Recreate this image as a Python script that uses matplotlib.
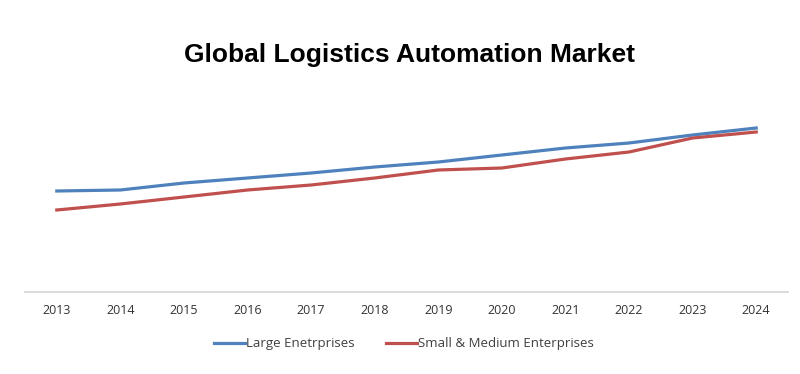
import matplotlib.pyplot as plt

years = [2013, 2014, 2015, 2016, 2017, 2018, 2019, 2020, 2021, 2022, 2023, 2024]
large = [101, 102, 109, 114, 119, 125, 130, 137, 144, 149, 157, 164]
sme = [82, 88, 95, 102, 107, 114, 122, 124, 133, 140, 154, 160]

fig = plt.figure(figsize=(8, 3.74), dpi=100)
ax = fig.add_axes([25 / 800, 1 - 292 / 374, 763 / 800, 192 / 374])

ax.plot(years, large, color="#4F81BD", lw=2.3, label="Large Enetrprises")
ax.plot(years, sme, color="#C0504D", lw=2.3, label="Small & Medium Enterprises")

ax.set_xlim(2012.5, 2024.5)
ax.set_ylim(0, 192)
ax.set_xticks(years)
ax.set_xticklabels([str(y) for y in years], fontsize=9, color="#333333", family="Open Sans")
ax.tick_params(axis="x", length=0, pad=9)
ax.set_yticks([])
for s in ["top", "right", "left"]:
    ax.spines[s].set_visible(False)
ax.spines["bottom"].set_color("#d9d9d9")
ax.spines["bottom"].set_linewidth(1.3)

fig.text(0.512, 1 - 55 / 374, "Global Logistics Automation Market", ha="center", va="center",
         fontsize=19, fontweight="bold", family="Liberation Sans")

fig.legend(loc="center", bbox_to_anchor=(0.505, 1 - 344 / 374), ncol=2, frameon=False,
           prop={"family": "Open Sans", "size": 9.5}, handlelength=2.3, handletextpad=0.1,
           columnspacing=2.4, labelcolor="#404040")

fig.savefig("out.png", dpi=100)
